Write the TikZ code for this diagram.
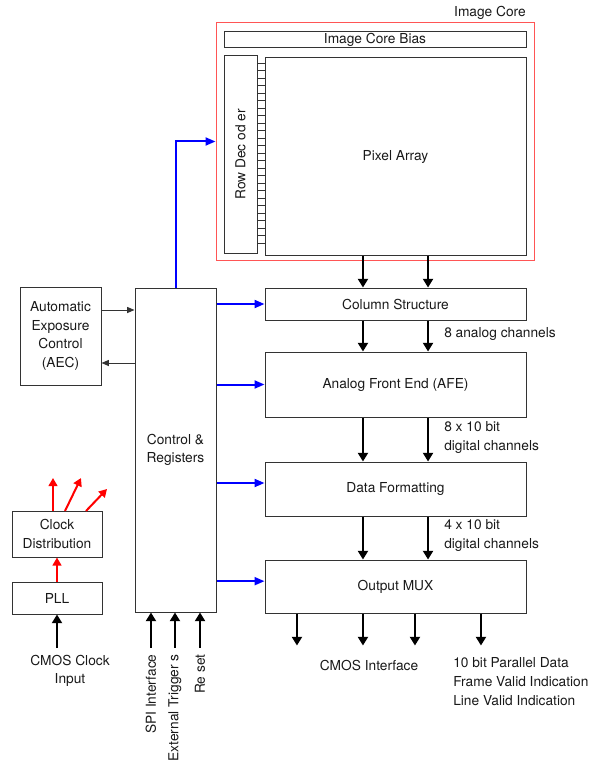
\documentclass[tikz,border=0pt]{standalone}
\usepackage{fontspec}
\setmainfont{TeX Gyre Heros}
\usetikzlibrary{arrows.meta}
\definecolor{boxgray}{RGB}{51,51,51}
\definecolor{txtgray}{RGB}{25,25,25}
\definecolor{ctrlblue}{RGB}{0,0,255}
\definecolor{clkred}{RGB}{255,0,0}
\definecolor{corered}{RGB}{255,85,85}
\tikzset{
  blk/.style={draw=boxgray, line width=0.75pt, text=txtgray, inner sep=0pt, align=center},
  lbl/.style={text=txtgray, inner sep=0pt, align=left},
  dataarr/.style={line width=1.5pt, -{Triangle[length=6.5pt,width=7.5pt]}},
  ctlarr/.style={draw=ctrlblue, line width=1.5pt, -{Triangle[length=7.5pt,width=6pt]}},
  clkarr/.style={draw=clkred, line width=1.5pt, -{Triangle[length=6pt,width=6.5pt]}},
  thinarr/.style={draw=boxgray, line width=0.75pt, -{Triangle[length=5.5pt,width=4.5pt]}},
  every node/.style={font=\fontsize{10.3}{14}\selectfont}
}
\begin{document}
\begin{tikzpicture}[x=0.75pt,y=0.75pt,yscale=-1,xscale=1]
  \useasboundingbox (0,0) rectangle (598,763);

  % Image core
  \node [draw=corered, line width=0.75pt, minimum width=238.5pt, minimum height=177.75pt, inner sep=0pt] (core) at (375,141.5) {};
  \node [lbl] (corelbl) at (490,13) {Image Core};
  \node [blk, minimum width=226.5pt, minimum height=12pt] (bias) at (375,40) {Image Core Bias};
  \node [blk, minimum width=24.75pt, minimum height=147.75pt] (rowdec) at (240.5,154.5) {};
  \node [lbl, rotate=90] (rowlbl) at (rowdec) {Row Dec od er};
  \node [blk, minimum width=195.75pt, minimum height=147.75pt] (pixel) at (395.5,156.5) {Pixel Array};
  % row lines
  \foreach \i in {0,...,24}
    \draw [boxgray, line width=0.6pt] (257,{63.3+7.5*\i}) -- (265,{63.3+7.5*\i});

  % Data path
  \node [blk, minimum width=195.75pt, minimum height=24pt] (colstr) at (395.5,304) {Column Structure};
  \node [blk, minimum width=195.75pt, minimum height=48.75pt] (afe) at (395.5,384.5) {Analog Front End (AFE)};
  \node [blk, minimum width=195.75pt, minimum height=40.5pt] (fmt) at (395.5,489) {Data Formatting};
  \node [blk, minimum width=195.75pt, minimum height=39.75pt] (mux) at (395.5,586.5) {Output MUX};

  \foreach \dx in {-24.4,24.4} {
    \draw [dataarr] ([xshift=\dx pt]pixel.south) -- ([xshift=\dx pt]colstr.north);
    \draw [dataarr] ([xshift=\dx pt]colstr.south) -- ([xshift=\dx pt]afe.north);
    \draw [dataarr] ([xshift=\dx pt]afe.south) -- ([xshift=\dx pt]fmt.north);
    \draw [dataarr] ([xshift=\dx pt]fmt.south) -- ([xshift=\dx pt]mux.north);
  }
  \foreach \dx [count=\k] in {-73.9,-24.4,14.6,64.1} {
    \coordinate (out\k) at ([xshift=\dx pt, yshift=24pt]mux.south);
    \draw [dataarr] ([xshift=\dx pt]mux.south) -- (out\k);
  }

  % Text Node
  \node [lbl, anchor=west] (ch1) at (444,334) {8 analog channels};
  \node [lbl, anchor=west] (ch2) at (444,437.5) {8 x 10 bit\\digital channels};
  \node [lbl, anchor=west] (ch3) at (444,535.5) {4 x 10 bit\\digital channels};
  \node [lbl] (cmosif) at (369,665) {CMOS Interface};
  \node [lbl, anchor=west] (outlbl) at (453,681.5) {10 bit Parallel Data\\Frame Valid Indication\\Line Valid Indication};

  % Control
  \node [blk, minimum width=60.75pt, minimum height=243pt] (ctrl) at (175.5,450) {Control \&\\Registers};
  \draw [ctlarr] (ctrl.north) |- (core.west);
  \draw [ctlarr] (ctrl.east |- colstr.west) -- (colstr.west);
  \draw [ctlarr] (ctrl.east |- afe.west) -- (afe.west);
  \coordinate (fmtin) at ([yshift=-4.5pt]fmt.west);
  \coordinate (muxin) at ([yshift=-4pt]mux.west);
  \draw [ctlarr] (ctrl.east |- fmtin) -- (fmtin);
  \draw [ctlarr] (ctrl.east |- muxin) -- (muxin);

  \foreach \dx/\txt [count=\k] in {-18.4/SPI Interface,-0.4/External Trigger s,18.4/Re set} {
    \coordinate (in\k) at ([xshift=\dx pt, yshift=26.25pt]ctrl.south);
    \draw [dataarr] (in\k) -- ([xshift=\dx pt]ctrl.south);
    \node [lbl, rotate=90, anchor=east] (inl\k) at ([yshift=5pt]in\k) {\txt};
  }

  % AEC
  \node [blk, minimum width=60.75pt, minimum height=73.5pt] (aec) at (60.5,336) {Automatic\\Exposure\\Control\\(AEC)};
  \coordinate (aecout) at ([yshift=-19.5pt]aec.east);
  \coordinate (aecin) at ([yshift=20.25pt]aec.east);
  \draw [thinarr] (aecout) -- (ctrl.west |- aecout);
  \draw [thinarr] (ctrl.west |- aecin) -- (aecin);

  % Clock
  \node [blk, minimum width=67.5pt, minimum height=34.5pt] (clk) at (57,534) {Clock\\Distribution};
  \node [blk, minimum width=67.5pt, minimum height=24pt] (pll) at (57,598) {PLL};
  \draw [clkarr] (pll.north) -- (clk.north |- clk.south);
  \coordinate (ck1) at (53,478);
  \coordinate (ck2) at (81,478);
  \coordinate (ck3) at (107,489);
  \draw [clkarr] (53,511) -- (ck1);
  \draw [clkarr] (65,511) -- (ck2);
  \draw [clkarr] (86,511) -- (ck3);
  \coordinate (clkin) at (57,648);
  \draw [dataarr] (clkin) -- (pll.south);
  \node [lbl, align=center] (clkinl) at (70,671) {CMOS Clock\\Input};
\end{tikzpicture}
\end{document}
